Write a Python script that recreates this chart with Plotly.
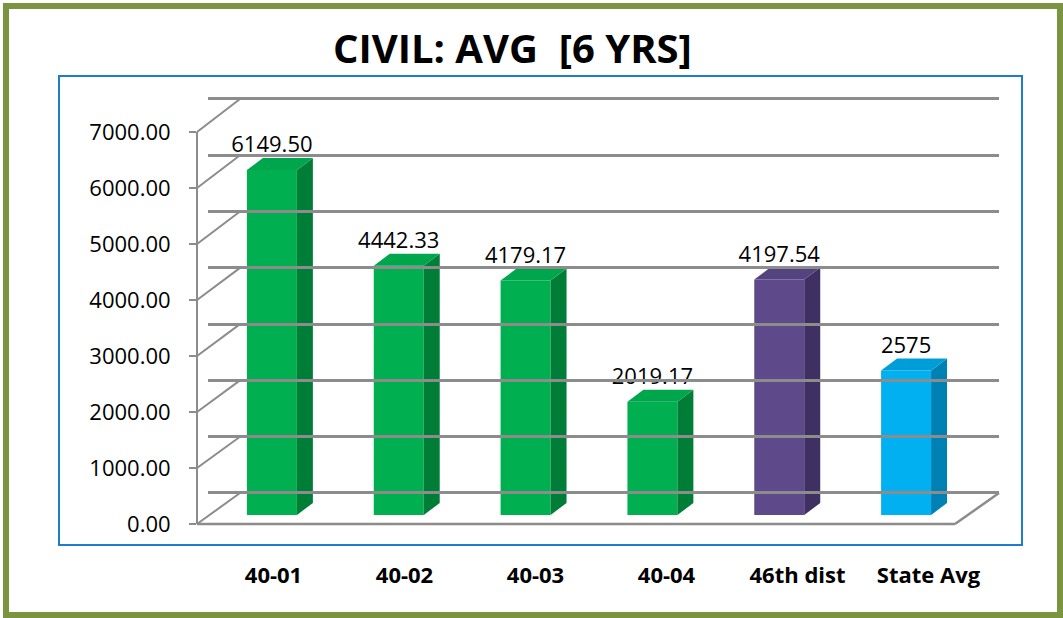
import plotly.graph_objects as go

categories = ['40-01', '40-02', '40-03', '40-04', '46th dist', 'State Avg']
values = [6149.50, 4442.33, 4179.17, 2019.17, 4197.54, 2575]
value_labels = ['6149.50', '4442.33', '4179.17', '2019.17', '4197.54', '2575']
front_colors = ['#00B050', '#00B050', '#00B050', '#00B050', '#5E4A8A', '#00B0F0']
side_colors = ['#007E38', '#007E38', '#007E38', '#007E38', '#3E3062', '#0081B3']
top_colors = ['#00A64B', '#00A64B', '#00A64B', '#00A64B', '#54437F', '#009ED8']
grid_ticks = list(range(0, 8000, 1000))

W, H = 1063, 618
FONT = 'Open Sans'
GRAY = '#8C8C8C'


def px(x):
    return x / W


def py(y):
    return 1 - y / H


# fake 3D depth: offset of the back of each bar (in data units of the bar axes)
half_w = 0.197
depth_x = 0.126
depth_y = 214

# back wall: value 0 sits at y=493 px, 7000 at y=99 px
back_scale = (493 - 99) / 7000

fig = go.Figure()

# back wall gridlines live on x / y
fig.add_trace(go.Scatter(x=[None], y=[None], xaxis='x', yaxis='y', showlegend=False, hoverinfo='skip'))
# front value axis (tick labels) on x / y3
fig.add_trace(go.Scatter(x=[None], y=[None], xaxis='x', yaxis='y3', showlegend=False, hoverinfo='skip'))
# category labels on x3 / y
fig.add_trace(go.Scatter(x=categories, y=[None] * len(categories), xaxis='x3', yaxis='y',
                         showlegend=False, hoverinfo='skip'))

# bars: front faces
idx = list(range(len(categories)))
fig.add_trace(go.Bar(x=idx, y=values, width=2 * half_w, xaxis='x2', yaxis='y2',
                     marker=dict(color=front_colors, line=dict(width=0)),
                     showlegend=False, hoverinfo='skip'))

# side and top faces
for i, v in enumerate(values):
    fig.add_trace(go.Scatter(
        x=[i + half_w, i + half_w + depth_x, i + half_w + depth_x, i + half_w],
        y=[0, depth_y, v + depth_y, v],
        fill='toself', fillcolor=side_colors[i], mode='lines', line=dict(width=0),
        xaxis='x2', yaxis='y2', showlegend=False, hoverinfo='skip'))
    fig.add_trace(go.Scatter(
        x=[i - half_w, i + half_w, i + half_w + depth_x, i - half_w + depth_x],
        y=[v, v, v + depth_y, v + depth_y],
        fill='toself', fillcolor=top_colors[i], mode='lines', line=dict(width=0),
        xaxis='x2', yaxis='y2', showlegend=False, hoverinfo='skip'))

# value labels
fig.add_trace(go.Scatter(x=idx, y=[v + depth_y for v in values], text=value_labels,
                         mode='text', textposition='top center',
                         textfont=dict(family=FONT, size=22, color='black'),
                         xaxis='x2', yaxis='y2', showlegend=False, hoverinfo='skip'))

shapes = [
    # outer olive frame
    dict(type='rect', xref='paper', yref='paper', x0=px(6), x1=px(1060), y0=py(6), y1=py(615),
         line=dict(color='#7A9440', width=6), layer='below'),
    # blue plot-area border
    dict(type='rect', xref='paper', yref='paper', x0=px(59), x1=px(1022), y0=py(76), y1=py(545),
         line=dict(color='#1F7BD0', width=2), layer='below'),
    # floor front edge and right diagonal
    dict(type='line', xref='paper', yref='paper', x0=px(197), x1=px(955), y0=py(524), y1=py(524),
         line=dict(color=GRAY, width=2.5), layer='below'),
    dict(type='line', xref='paper', yref='paper', x0=px(955), x1=px(999), y0=py(524), y1=py(493),
         line=dict(color=GRAY, width=2.5), layer='below'),
]
# left wall diagonals from front ticks to back gridlines
for t in grid_ticks:
    yf = 524 - (524 - 132) * t / 7000
    yb = 493 - back_scale * t
    shapes.append(dict(type='line', xref='paper', yref='paper', x0=px(197), x1=px(240),
                       y0=py(yf), y1=py(yb), line=dict(color=GRAY, width=2), layer='below'))

fig.update_layout(
    width=W, height=H,
    margin=dict(l=0, r=0, t=0, b=0, autoexpand=False),
    paper_bgcolor='white', plot_bgcolor='rgba(0,0,0,0)',
    font=dict(family=FONT, color='black'),
    shapes=shapes,
    annotations=[dict(text='<b>CIVIL: AVG\u00a0 [6 YRS]</b>', xref='paper', yref='paper',
                      x=px(512), y=py(47), xanchor='center', yanchor='middle', showarrow=False,
                      font=dict(family=FONT, size=40, color='black'))],
    xaxis=dict(domain=[px(240), px(999)], range=[0, 1], visible=True, showgrid=False,
               zeroline=False, showticklabels=False, ticks='', showline=False, fixedrange=True),
    yaxis=dict(domain=[py(493 + 500 * back_scale), py(99 - 500 * back_scale)], range=[-500, 7500],
               tickvals=grid_ticks, showgrid=True,
               gridcolor=GRAY, gridwidth=2.5, zeroline=False, showticklabels=False, ticks='',
               showline=False, fixedrange=True),
    xaxis2=dict(domain=[px(208.5), px(969.5)], range=[-0.5, 5.5], visible=False, fixedrange=True),
    yaxis2=dict(domain=[py(571.1), py(66.2)], range=[-1000, 8000], visible=False, fixedrange=True),
    yaxis3=dict(domain=[py(524), py(132)], range=[0, 7000], anchor='free', position=px(197),
                side='left', dtick=1000, tickformat='.2f', showgrid=False, zeroline=False,
                showline=True, linecolor=GRAY, linewidth=2, ticks='outside', ticklen=7,
                tickcolor=GRAY, tickwidth=2, ticklabelstandoff=14,
                tickfont=dict(family=FONT, size=22, color='black'), fixedrange=True),
    xaxis3=dict(domain=[px(208), px(994)], range=[-0.5, 5.5], type='category', anchor='free',
                position=py(560), showgrid=False, zeroline=False, showline=False, ticks='',
                tickfont=dict(family=FONT, size=22, color='black'), fixedrange=True),
)
fig.update_xaxes(automargin=False)
fig.update_yaxes(automargin=False)
fig.update_xaxes(ticktext=['<b>%s</b>' % c for c in categories], tickvals=categories,
                 selector=dict(anchor='free'))

# pin the graph to the page corner so the page is exactly the figure size
pin = ("var d = document.getElementById('{plot_id}');"
       "document.body.style.margin = '0px';"
       "d.style.position = 'absolute'; d.style.left = '0px'; d.style.top = '0px';")

fig.write_html('out.html', post_script=pin, config={'displayModeBar': False})
